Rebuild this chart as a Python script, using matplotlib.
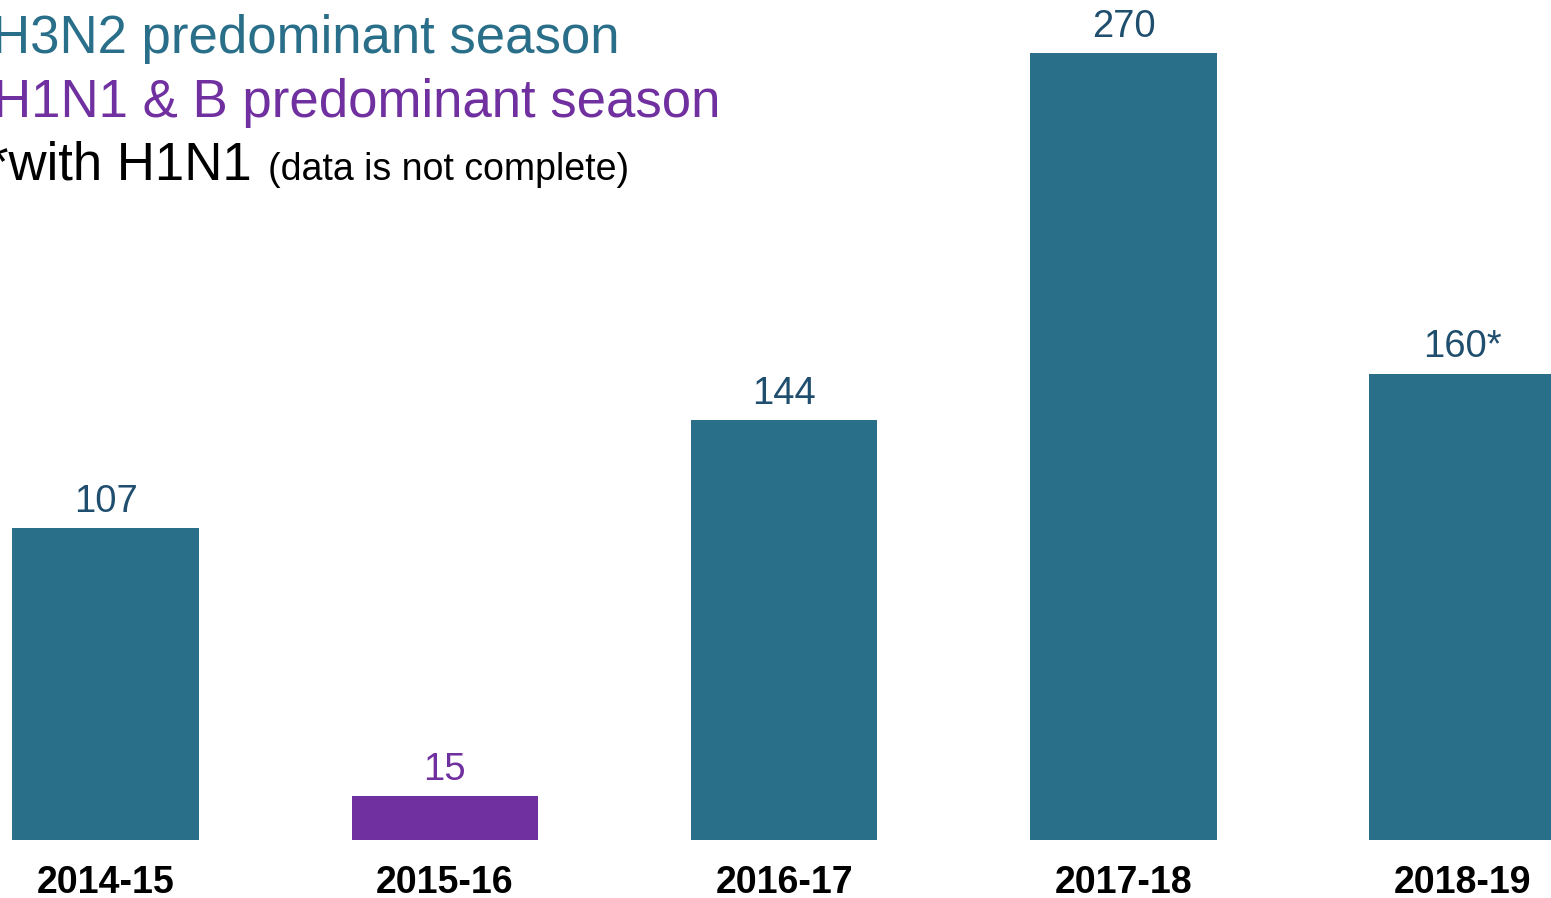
import matplotlib
matplotlib.use('Agg')
import matplotlib.pyplot as plt

seasons = ['2014-15', '2015-16', '2016-17', '2017-18', '2018-19']
counts = [107, 15, 144, 270, 160]
labels = ['107', '15', '144', '270', '160*']
kinds = ['H3N2', 'H1N1B', 'H3N2', 'H3N2', 'H3N2']

TEAL = '#2a6f8a'
PURPLE = '#7030a0'
NAVY = '#1f4e6e'
bar_color = {'H3N2': TEAL, 'H1N1B': PURPLE}
label_color = {'H3N2': NAVY, 'H1N1B': PURPLE}

plt.rcParams['font.family'] = ['Liberation Sans', 'DejaVu Sans']

W, H = 1551, 898
fig = plt.figure(figsize=(W / 100, H / 100), dpi=100)
base_px = 840
ax = fig.add_axes([0, (H - base_px) / H, 1, base_px / H])

x = list(range(len(seasons)))
ax.bar(x, counts, width=0.55, color=[bar_color[k] for k in kinds])
for xi, v, lab, k in zip(x, counts, labels, kinds):
    ax.text(xi, v + 5.6, lab, ha='center', va='baseline', fontsize=27.5,
            color=label_color[k])

ax.set_xlim(-0.311, 4.26)
ax.set_ylim(0, 270 * base_px / 787)
ax.set_xticks(x)
ax.set_xticklabels(seasons, fontsize=27, fontweight='bold')
ax.tick_params(axis='x', length=0, pad=18)
ax.set_yticks([])
for s in ax.spines.values():
    s.set_visible(False)

# legend text, partly cut off at the left edge like the source slide
fig.text(620 / W, 1 - 53 / H, 'H3N2 predominant season', ha='right',
         va='baseline', fontsize=38, color=TEAL)
fig.text(720 / W, 1 - 117 / H, 'H1N1 & B predominant season', ha='right',
         va='baseline', fontsize=38, color=PURPLE)
fig.text(252 / W, 1 - 180 / H, '*with H1N1', ha='right',
         va='baseline', fontsize=38, color='black')
fig.text(268 / W, 1 - 180 / H, '(data is not complete)', ha='left',
         va='baseline', fontsize=27, color='black')

fig.savefig('out.png', dpi=100)
